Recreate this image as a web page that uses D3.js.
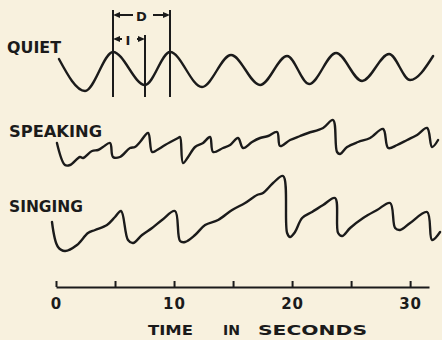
<!DOCTYPE html>
<html>
<head>
<meta charset="utf-8">
<script src="https://cdn.jsdelivr.net/npm/d3@7"></script>
<style>
body { margin: 0; background: #f8f1de; }
svg { display: block; }
text { font-family: "DejaVu Sans", sans-serif; font-weight: bold; fill: #1b1b1b; }
</style>
</head>
<body>
<svg class="Breathing" width="442" height="340"></svg>
<script>
// [time in seconds, relative amplitude]
const quiet = [
    [0.25, 8.25], [2.46, 0.25], [4.83, 10], [7.54, 1.75], [9.66, 10],
    [12.37, 1.25], [14.83, 9.25], [17.29, 1.75], [19.58, 9.0], [21.44, 2.0],
    [23.73, 9.75], [25.93, 2.75], [28.22, 9.5], [30.0, 3.0], [31.95, 9.0]
];

const speaking = [
    [0.08, 5.75], [0.76, 0.25], [1.19, 0.25], [2.03, 2.25], [2.29, 2.0],
    [3.05, 3.75], [3.56, 4.0], [3.98, 4.75], [4.58, 5.75], [4.83, 2.25],
    [5.42, 2.25], [6.27, 4.5], [6.69, 4.75], [7.12, 6.0], [7.80, 8.25],
    [8.14, 3.5], [8.56, 4.0], [9.24, 5.25], [10.34, 7.0], [10.51, 7.25],
    [10.76, 0.75], [11.19, 2.25], [11.78, 4.75], [12.46, 5.75], [13.05, 7.25],
    [13.31, 3.5], [14.15, 4.5], [14.75, 5.25], [15.42, 7.0], [15.85, 4.5],
    [16.61, 6.0], [17.29, 7.0], [17.97, 7.5], [18.73, 8.5], [18.98, 5.0],
    [19.83, 6.5], [20.68, 7.5], [21.36, 8.25], [22.63, 9.5], [23.47, 11.5],
    [23.81, 3.5], [24.07, 3.0], [24.66, 4.75], [25.59, 6.0], [26.61, 7.0],
    [27.71, 9.25], [28.14, 4.5], [28.90, 5.25], [29.75, 6.5], [30.59, 7.75],
    [31.44, 9.5], [31.86, 4.75], [32.37, 6.5]
];

const singing = [
    [-0.34, 7.5], [0.17, 1.25], [0.76, 0.25], [1.78, 1.75], [2.71, 4.75],
    [3.31, 5.5], [4.32, 6.75], [5.0, 8.75], [5.51, 10.25], [6.10, 3.0],
    [6.53, 2.25], [7.29, 4.25], [8.14, 6.0], [8.98, 8.0], [10.08, 10.25],
    [10.51, 2.75], [10.93, 2.5], [11.78, 4.25], [12.63, 6.75], [13.73, 8.0],
    [14.92, 10.5], [16.02, 12.25], [17.03, 14.25], [17.54, 14.75], [18.39, 17.25],
    [19.24, 19.0], [19.58, 4.75], [19.83, 3.75], [20.25, 5.0], [20.85, 8.5],
    [21.69, 10.0], [22.63, 11.75], [23.64, 13.5], [23.90, 4.75], [24.24, 4.0],
    [24.92, 6.0], [26.02, 8.5], [27.20, 10.5], [28.31, 12.25], [28.73, 6.0],
    [29.15, 5.5], [30.0, 7.25], [31.44, 10.0], [31.86, 3.0], [32.54, 5.0]
];

const traceNames = ["QUIET", "SPEAKING", "SINGING"];
const tickValues = [0, 5, 10, 15, 20, 25, 30];
const tickLabels = ["0", "", "10", "", "20", "", "30"];
const axisTitle = ["TIME", "IN", "SECONDS"];

function render()
{
    const svg = d3.select('.Breathing');
    const ink = '#1b1b1b';

    const xScale = d3.scaleLinear()
        .domain([0, 31.6])
        .range([56, 429]);

    // each trace sits on its own baseline, 4px per unit
    const traces = [
        { name: traceNames[0], data: quiet, base: 92, labelX: 7, labelY: 53, labelW: 54, curve: d3.curveMonotoneX },
        { name: traceNames[1], data: speaking, base: 166, labelX: 9, labelY: 137, labelW: 93, curve: d3.curveCatmullRom.alpha(0.5) },
        { name: traceNames[2], data: singing, base: 252, labelX: 9, labelY: 212, labelW: 74, curve: d3.curveCatmullRom.alpha(0.5) }
    ];

    for (const tr of traces) {
        const yScale = d3.scaleLinear()
            .domain([0, 10])
            .range([tr.base, tr.base - 40]);

        svg.append('path')
            .datum(tr.data)
            .attr('fill', 'none')
            .attr('stroke', ink)
            .attr('stroke-width', 2.4)
            .attr('stroke-linejoin', 'round')
            .attr('stroke-linecap', 'round')
            .attr('d', d3.line()
                .x(d => xScale(d[0]))
                .y(d => yScale(d[1]))
                .curve(tr.curve)
            );

        svg.append('text')
            .attr('x', tr.labelX)
            .attr('y', tr.labelY)
            .attr('font-size', 15)
            .attr('textLength', tr.labelW)
            .attr('lengthAdjust', 'spacingAndGlyphs')
            .text(tr.name);
    }

    // time axis
    const axis = svg.append('g')
        .attr('class', 'x-axis')
        .attr('transform', 'translate(0, 287)')
        .attr('color', ink)
        .call(d3.axisBottom(xScale)
            .tickValues(tickValues)
            .tickFormat((d, i) => tickLabels[i])
            .tickSize(-6)
            .tickSizeOuter(0)
            .tickPadding(11)
        );
    axis.select('.domain').attr('stroke-width', 2);
    axis.selectAll('.tick line').attr('stroke-width', 2);
    axis.selectAll('.tick text')
        .attr('font-size', 15)
        .attr('letter-spacing', 1);

    const titleX = [148, 223, 258];
    const titleW = [45, 17, 109];
    axisTitle.forEach((w, i) => {
        svg.append('text')
            .attr('x', titleX[i])
            .attr('y', 335)
            .attr('font-size', 14)
            .attr('textLength', titleW[i])
            .attr('lengthAdjust', 'spacingAndGlyphs')
            .text(w);
    });

    // period markers on the quiet trace
    const x0 = xScale(quiet[2][0]);
    const x1 = xScale(quiet[3][0]);
    const x2 = xScale(quiet[4][0]);

    const marks = svg.append('g')
        .attr('stroke', ink)
        .attr('stroke-width', 2);
    marks.append('line').attr('x1', x0).attr('x2', x0).attr('y1', 10).attr('y2', 97);
    marks.append('line').attr('x1', x2).attr('x2', x2).attr('y1', 10).attr('y2', 97);
    marks.append('line').attr('x1', x1).attr('x2', x1).attr('y1', 35).attr('y2', 97);

    function arrow(xs, xe, y)
    {
        const dir = xe > xs ? 1 : -1;
        marks.append('line')
            .attr('x1', xs).attr('x2', xe - dir * 5)
            .attr('y1', y).attr('y2', y);
        svg.append('path')
            .attr('fill', ink)
            .attr('d', `M${xe},${y} L${xe - dir * 7},${y - 3} L${xe - dir * 7},${y + 3} Z`);
    }

    // D bracket
    arrow(x0 + 20, x0, 15);
    arrow(x2 - 17, x2, 15);
    svg.append('text')
        .attr('x', (x0 + x2) / 2)
        .attr('y', 20.5)
        .attr('text-anchor', 'middle')
        .attr('font-size', 13)
        .text('D');

    // I bracket
    arrow(x0 + 9, x0, 39);
    arrow(x1 - 8, x1, 39);
    svg.append('text')
        .attr('x', x0 + 15)
        .attr('y', 44.5)
        .attr('text-anchor', 'middle')
        .attr('font-size', 13)
        .text('I');
}

render();
</script>
</body>
</html>
